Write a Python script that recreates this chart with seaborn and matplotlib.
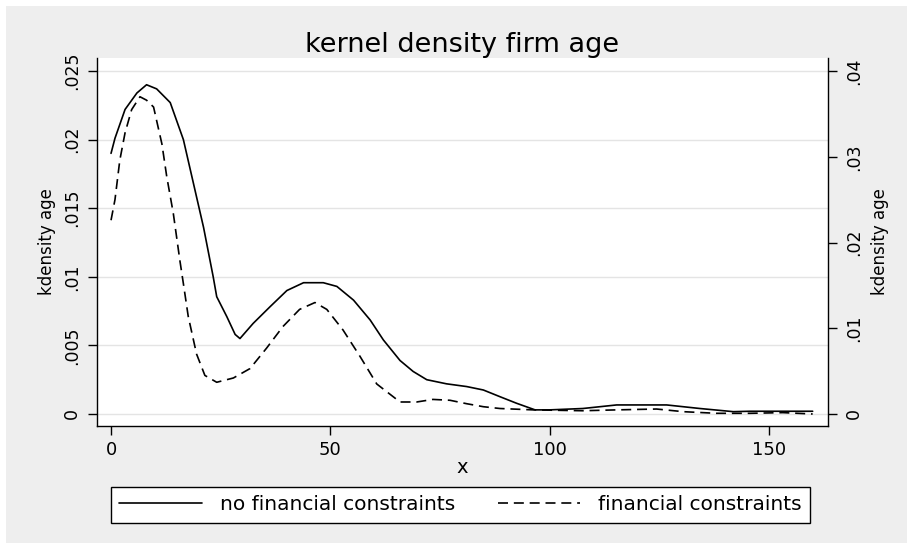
import numpy as np
import pandas as pd
import seaborn as sns
import matplotlib.pyplot as plt
from matplotlib.patches import Rectangle
from matplotlib.lines import Line2D

# ─── data ───────────────────────────────────────────────────────────────
# no financial constraints (left axis)
x_nf = [0, 0.9, 3.2, 5.9, 8.1, 10.4, 13.5, 16.5, 18.8, 21.1, 23.3, 24.1, 26.4,
        28.3, 29.4, 32.4, 36.2, 40.1, 43.9, 48.4, 51.5, 55.3, 59.1, 62.1, 65.9,
        68.9, 72, 76.5, 81.1, 84.9, 88.7, 92.5, 96.7, 100, 107.6, 115.3, 119,
        126.7, 134.3, 141.9, 145.7, 160]
y_nf = [.0190, .0201, .0222, .0234, .0240, .0237, .0227, .0200, .0168, .0136,
        .0100, .00855, .0071, .0058, .0055, .0066, .0078, .0090, .00957, .00957,
        .0093, .0083, .00685, .0054, .0039, .0031, .0025, .0022, .0020, .00175,
        .00126, .00078, .0003, .0003, .0004, .00066, .00066, .00066, .0004,
        .00017, .0002, .0002]

# financial constraints (right axis)
x_fc = [0, 0.9, 2, 3.2, 4.7, 6.6, 8.1, 9.7, 11.6, 12.7, 14.2, 15.7, 16.5, 17.6,
        19.5, 21.4, 24.1, 27.9, 31.7, 35.5, 39.2, 43, 46.5, 49.2, 52.9, 56.8,
        60.6, 65.9, 69.7, 73.4, 77.3, 81.1, 84.9, 88.7, 96.3, 107.6, 115.3,
        124.4, 130.5, 138.1, 145.7, 153.2, 160]
y_fc = [.0226, .0250, .0296, .0328, .0355, .0370, .0366, .0358, .0315, .0277,
        .0234, .0179, .0152, .0114, .0070, .0045, .0037, .0042, .0053, .0077,
        .0102, .0122, .0130, .0122, .0098, .0067, .0035, .0014, .0014, .0017,
        .0016, .0012, .00085, .00064, .00048, .00038, .00048, .00058, .00027,
        .00008, .00008, .00016, 0]

x_ticks = [0, 50, 100, 150]
left_ticks = [0, .005, .01, .015, .02, .025]
left_labels = ["0", ".005", ".01", ".015", ".02", ".025"]
right_ticks = [0, .01, .02, .03, .04]
right_labels = ["0", ".01", ".02", ".03", ".04"]
series_names = ["no financial constraints", "financial constraints"]

df_nf = pd.DataFrame({"x": x_nf, "dens": y_nf})
df_fc = pd.DataFrame({"x": x_fc, "dens": y_fc})

# ─── style ───────────────────────────────────────────────────────────────
sns.set_theme(style="white")
plt.rcParams["font.family"] = ["DejaVu Sans"]
plt.rcParams.update({"text.color": "black", "axes.labelcolor": "black",
                     "xtick.color": "black", "ytick.color": "black"})
BG = "#eeeeee"
GRID = "#e4e4e4"

W, H = 907, 543
fig = plt.figure(figsize=(W / 100, H / 100), dpi=100, facecolor="white")
fig.patches.append(Rectangle((6 / W, 0), 1 - 6 / W, 1 - 6 / H,
                             transform=fig.transFigure, facecolor=BG,
                             edgecolor="none", zorder=-10))

L, R, T, B = 97, 828, 58, 426
ax = fig.add_axes([L / W, 1 - B / H, (R - L) / W, (B - T) / H])
ax.set_facecolor("white")
ax2 = ax.twinx()

DASH = (0, (6, 3.5))
sns.lineplot(data=df_nf, x="x", y="dens", ax=ax, color="black", lw=1.2)
sns.lineplot(data=df_fc, x="x", y="dens", ax=ax2, color="black", lw=1.2,
             linestyle=DASH)

ax.set_xlim(-3.2, 163.5)
ylo, yhi = -0.000875, 0.02595
ax.set_ylim(ylo, yhi)
ax2.set_ylim(ylo * 1.6, yhi * 1.6)

ax.set_xticks(x_ticks)
ax.set_xticklabels([str(v) for v in x_ticks])
ax.set_yticks(left_ticks)
ax.set_yticklabels(left_labels)
ax2.set_yticks(right_ticks)
ax2.set_yticklabels(right_labels)

ax.grid(axis="y", color=GRID, lw=1)
ax.grid(axis="x", visible=False)
ax2.grid(False)
ax.set_axisbelow(True)

for a in (ax, ax2):
    for s in a.spines.values():
        s.set_color("black")
        s.set_linewidth(1.0)
    a.spines["top"].set_visible(False)
ax.spines["right"].set_visible(False)
ax2.spines["left"].set_visible(False)
ax2.spines["bottom"].set_visible(False)

ax.tick_params(axis="x", which="major", bottom=True, direction="out",
               length=6.5, width=1, color="black", labelcolor="black",
               labelsize=13, pad=4)
ax.tick_params(axis="y", which="major", left=True, direction="out",
               length=6.5, width=1, color="black", labelcolor="black",
               labelsize=12.5, pad=5, labelrotation=90)
ax2.tick_params(axis="y", which="major", right=True, direction="out",
                length=6.5, width=1, color="black", labelcolor="black",
                labelsize=12.5, pad=6, labelrotation=90)
plt.setp(ax.get_yticklabels(), va="center")
plt.setp(ax2.get_yticklabels(), va="center")

ax.set_xlabel("x", fontsize=14, va="baseline", color="black")
ax.xaxis.set_label_coords(0.5, (B - 473) / (B - T))
ax.set_ylabel("kdensity age", fontsize=12, va="center", color="black")
ax.yaxis.set_label_coords((47 - L) / (R - L), 0.5)
ax2.set_ylabel("kdensity age", fontsize=12, va="center", rotation=90,
               color="black")
ax2.yaxis.set_label_coords((880 - L) / (R - L), 0.5)

ax.set_title("kernel density firm age", fontsize=19.5, pad=4.3, color="black")

handles = [Line2D([], [], color="black", lw=1.2),
           Line2D([], [], color="black", lw=1.2, linestyle=DASH)]
leg = fig.legend(handles, series_names, loc="upper left",
                 bbox_to_anchor=(111 / W, 1 - 487 / H), ncol=2,
                 fontsize=14.5, frameon=True, fancybox=False, shadow=False,
                 handlelength=4.1, handletextpad=0.9, columnspacing=2.1,
                 borderpad=0.42, borderaxespad=0)
leg.get_frame().set_edgecolor("black")
leg.get_frame().set_linewidth(1.0)
leg.get_frame().set_facecolor("white")
leg.get_frame().set_alpha(1)
for t in leg.get_texts():
    t.set_color("black")

fig.savefig("out.png", dpi=100, facecolor=fig.get_facecolor())
